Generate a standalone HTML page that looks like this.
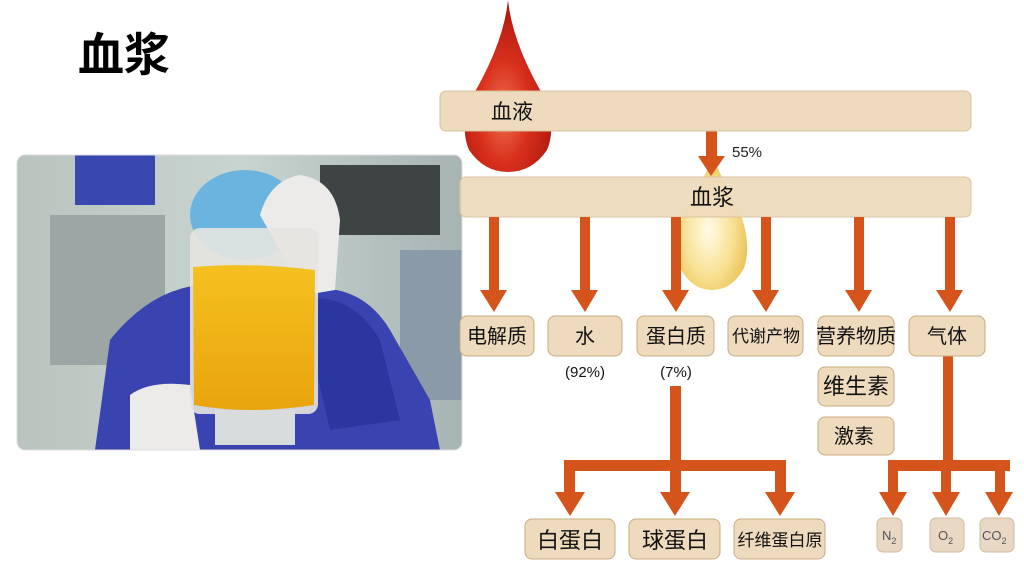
<!DOCTYPE html>
<html><head><meta charset="utf-8"><style>
body{margin:0;background:#fff;}
svg text{font-family:"Liberation Sans","Noto Sans CJK SC",sans-serif;}
</style></head><body>
<svg width="1024" height="576" viewBox="0 0 1024 576" xmlns="http://www.w3.org/2000/svg">
<defs>
<radialGradient id="rd" cx="0.45" cy="0.65" r="0.6"><stop offset="0" stop-color="#f07050"/><stop offset="0.5" stop-color="#d8301c"/><stop offset="1" stop-color="#b01810"/></radialGradient>
<radialGradient id="yd" cx="0.45" cy="0.55" r="0.6"><stop offset="0" stop-color="#fffbe8"/><stop offset="0.6" stop-color="#f8e090"/><stop offset="1" stop-color="#e8c050"/></radialGradient>
<linearGradient id="bg" x1="0" y1="0" x2="1" y2="0"><stop offset="0" stop-color="#b9c4bf"/><stop offset="0.5" stop-color="#c8d4cf"/><stop offset="1" stop-color="#a8b4b4"/></linearGradient>
<linearGradient id="yb" x1="0" y1="0" x2="0" y2="1"><stop offset="0" stop-color="#f4c020"/><stop offset="1" stop-color="#eaa40c"/></linearGradient>
<clipPath id="pc"><rect x="17" y="155" width="445" height="295" rx="8"/></clipPath>
</defs>
<text x="78" y="71" font-size="46" font-weight="bold" fill="#000">血浆</text>

<g clip-path="url(#pc)">
<rect x="17" y="155" width="445" height="295" fill="url(#bg)"/>
<rect x="50" y="215" width="115" height="150" fill="#9ca6a4"/>
<rect x="320" y="165" width="120" height="70" fill="#3e4444"/>
<rect x="75" y="155" width="80" height="50" fill="#3848b0"/>
<rect x="400" y="250" width="62" height="150" fill="#8a9aa8"/>
<ellipse cx="245" cy="215" rx="55" ry="45" fill="#6cb4e0"/>
<path d="M95 450 L110 340 Q150 290 200 285 L300 290 Q360 280 390 330 L430 400 L440 450 Z" fill="#3a44b0"/>
<path d="M300 300 Q350 290 380 340 L400 420 L330 430 Z" fill="#2c36a0"/>
<path d="M260 215 Q270 180 300 175 Q335 180 340 220 L335 290 L305 295 Z" fill="#ecebea"/>
<path d="M130 395 Q150 380 190 385 L200 450 L130 450 Z" fill="#ecebea"/>
<rect x="190" y="228" width="128" height="186" rx="10" fill="#e6e4e0" opacity="0.9"/>
<path d="M193 267 Q250 262 315 270 L314 405 Q250 415 194 405 Z" fill="url(#yb)"/>
<rect x="215" y="410" width="80" height="35" fill="#d8dcdc"/>
</g>
<rect x="17" y="155" width="445" height="295" rx="8" fill="none" stroke="#ddd"/>

<path d="M508 0 Q512 40 540 90 Q558 125 547 150 Q532 172 508 172 Q484 172 469 150 Q458 125 476 90 Q504 40 508 0 Z" fill="url(#rd)"/>
<path d="M713 158 Q722 178 740 212 Q752 245 744 268 Q732 290 712 290 Q692 290 680 268 Q672 245 684 212 Q704 178 713 158 Z" fill="url(#yd)"/>

<g fill="#d4541c">
<rect x="706" y="130" width="11" height="28"/><polygon points="698,156 725,156 711,176"/>
</g>
<rect x="440" y="91" width="531" height="40" rx="6" fill="#eedbbd" stroke="#d8c09c"/>
<text x="491" y="119" font-size="21" fill="#111">血液</text>
<text x="732" y="157" font-size="15" fill="#222">55%</text>
<rect x="460" y="177" width="511" height="40" rx="6" fill="#eedbbd" stroke="#d8c09c" opacity="0.92"/>
<text x="690" y="205" font-size="22" fill="#111">血浆</text>

<g fill="#d4541c">
<rect x="489" y="217" width="10" height="74"/><polygon points="480,290 507,290 494,312"/>
<rect x="580" y="217" width="10" height="74"/><polygon points="571,290 598,290 585,312"/>
<rect x="671" y="217" width="10" height="74"/><polygon points="662,290 689,290 676,312"/>
<rect x="761" y="217" width="10" height="74"/><polygon points="752,290 779,290 766,312"/>
<rect x="854" y="217" width="10" height="74"/><polygon points="845,290 872,290 859,312"/>
<rect x="945" y="217" width="10" height="74"/><polygon points="936,290 963,290 950,312"/>
<rect x="670" y="386" width="11" height="80"/>
<rect x="564" y="460" width="222" height="11"/>
<rect x="564" y="460" width="11" height="34"/><polygon points="555,492 585,492 570,516"/>
<rect x="670" y="460" width="11" height="34"/><polygon points="660,492 690,492 675,516"/>
<rect x="775" y="460" width="11" height="34"/><polygon points="765,492 795,492 780,516"/>
<rect x="943" y="352" width="10" height="112"/>
<rect x="888" y="460" width="122" height="11"/>
<rect x="888" y="460" width="10" height="34"/><polygon points="879,492 907,492 893,516"/>
<rect x="941" y="460" width="10" height="34"/><polygon points="932,492 960,492 946,516"/>
<rect x="995" y="460" width="10" height="34"/><polygon points="985,492 1013,492 999,516"/>
</g>

<g fill="#eedbbd" stroke="#c8ab82" stroke-width="1">
<rect x="460" y="316" width="74" height="40" rx="7"/>
<rect x="548" y="316" width="74" height="40" rx="7"/>
<rect x="637" y="316" width="77" height="40" rx="7"/>
<rect x="728" y="316" width="75" height="40" rx="7"/>
<rect x="818" y="316" width="76" height="40" rx="7"/>
<rect x="909" y="316" width="76" height="40" rx="7"/>
<rect x="818" y="367" width="76" height="39" rx="7"/>
<rect x="818" y="417" width="76" height="38" rx="7"/>
<rect x="525" y="519" width="90" height="40" rx="7"/>
<rect x="629" y="519" width="91" height="40" rx="7"/>
<rect x="734" y="519" width="91" height="40" rx="7"/>
<rect x="877" y="518" width="25" height="34" rx="6" fill="#e8d8c4" stroke="#d0bca0"/>
<rect x="930" y="518" width="34" height="34" rx="6" fill="#e8d8c4" stroke="#d0bca0"/>
<rect x="980" y="518" width="34" height="34" rx="6" fill="#e8d8c4" stroke="#d0bca0"/>
</g>
<g font-size="20" fill="#111" text-anchor="middle">
<text x="497" y="343">电解质</text>
<text x="585" y="343">水</text>
<text x="676" y="343">蛋白质</text>
<text x="766" y="342" font-size="17">代谢产物</text>
<text x="856" y="343">营养物质</text>
<text x="947" y="343">气体</text>
<text x="856" y="394" font-size="22">维生素</text>
<text x="854" y="443">激素</text>
<text x="570" y="548" font-size="22">白蛋白</text>
<text x="675" y="548" font-size="22">球蛋白</text>
<text x="780" y="546" font-size="17">纤维蛋白原</text>
<text x="585" y="377" font-size="15">(92%)</text>
<text x="676" y="377" font-size="15">(7%)</text>
</g>
<g font-size="13" fill="#555">
<text x="882" y="540">N<tspan font-size="9" dy="4">2</tspan></text>
<text x="938" y="540">O<tspan font-size="9" dy="4">2</tspan></text>
<text x="982" y="540">CO<tspan font-size="9" dy="4">2</tspan></text>
</g>
</svg>
</body></html>
